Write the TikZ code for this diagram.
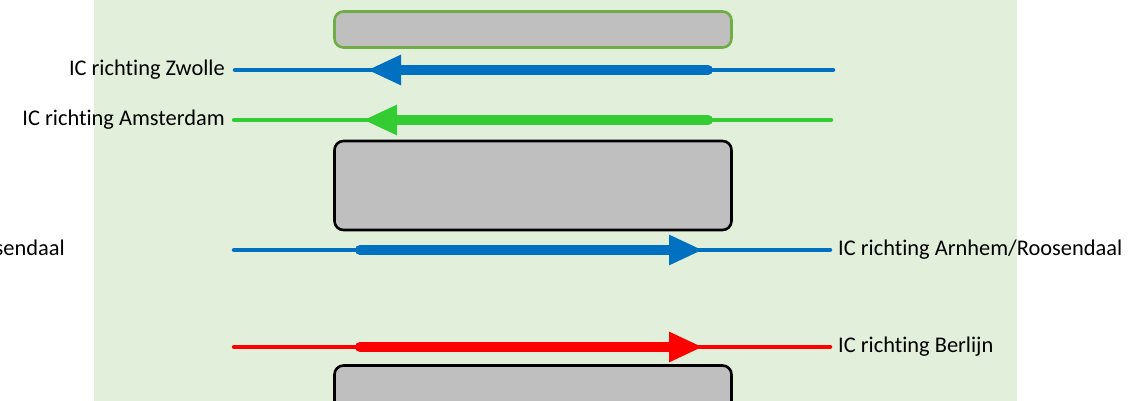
\documentclass[tikz,border=0pt]{standalone}
\usepackage{fontspec}
\setmainfont{Carlito}[Ligatures=NoCommon]
\usetikzlibrary{arrows.meta,positioning}
\definecolor{trackblue}{HTML}{0070C0}
\definecolor{trackgreen}{HTML}{33CC33}
\definecolor{trackred}{HTML}{FF0000}
\definecolor{bggreen}{HTML}{E2EFDA}
\definecolor{platgray}{HTML}{BFBFBF}
\definecolor{platedge}{HTML}{70AD47}
\tikzstyle{platform}=[draw=black, fill=platgray, line width=2.6pt,
    rounded corners=9pt, minimum width=397pt, inner sep=0pt]
\tikzstyle{ann}=[font=\fontsize{22.4}{26}\selectfont, inner sep=0pt]
\tikzstyle{track}=[line width=4.5pt, line cap=round]
\tikzstyle{train}=[line width=10pt, line cap=round,
    -{Triangle[length=34pt,width=28pt]}]

\begin{document}
\begin{tikzpicture}[x=1pt,y=-1pt]
    \useasboundingbox (0,0) rectangle (1129,401);
    \clip (0,0) rectangle (1129,401);
    \fill [bggreen] (94,0) rectangle (1017,401);

    % perrons
    \node (perron1) [platform, draw=platedge, minimum height=36pt] at (533,29.5) {};
    \node (perron2) [platform, minimum height=89pt] at (533,185.5) {};
    \node (perron3) [platform, minimum height=46pt] at (533,388.5) {};

    % IC richting Zwolle
    \coordinate (zw-a) at (235,70);
    \coordinate (zw-b) at (833,70);
    \coordinate (zw-c) at (708,70);
    \coordinate (zw-d) at (367,70);
    \node (zwolle) [ann, left=10pt of zw-a] {IC richting Zwolle};
    \draw [track, trackblue] (zw-a) -- (zw-b);
    \draw [train, trackblue] (zw-c) -- (zw-d);

    % IC richting Amsterdam
    \coordinate (am-a) at (234,120);
    \coordinate (am-b) at (831,120);
    \coordinate (am-c) at (708,120);
    \coordinate (am-d) at (363,120);
    \node (amsterdam) [ann, left=9pt of am-a] {IC richting Amsterdam};
    \draw [track, trackgreen] (am-a) -- (am-b);
    \draw [train, trackgreen] (am-c) -- (am-d);

    % IC richting Arnhem/Roosendaal
    \coordinate (ar-a) at (234,250);
    \coordinate (ar-b) at (830,250);
    \coordinate (ar-c) at (360,250);
    \coordinate (ar-d) at (703,250);
    \node (arnhem) [ann, right=8pt of ar-b] {IC richting Arnhem/Roosendaal};
    \node (arnhem-l) [ann, anchor=east] at (65,250) {IC richting Arnhem/Roosendaal};
    \draw [track, trackblue] (ar-a) -- (ar-b);
    \draw [train, trackblue] (ar-c) -- (ar-d);

    % IC richting Berlijn
    \coordinate (be-a) at (234,347);
    \coordinate (be-b) at (830,347);
    \coordinate (be-c) at (360,347);
    \coordinate (be-d) at (703,347);
    \node (berlijn) [ann, right=8pt of be-b] {IC richting Berlijn};
    \draw [track, trackred] (be-a) -- (be-b);
    \draw [train, trackred] (be-c) -- (be-d);
\end{tikzpicture}
\end{document}
